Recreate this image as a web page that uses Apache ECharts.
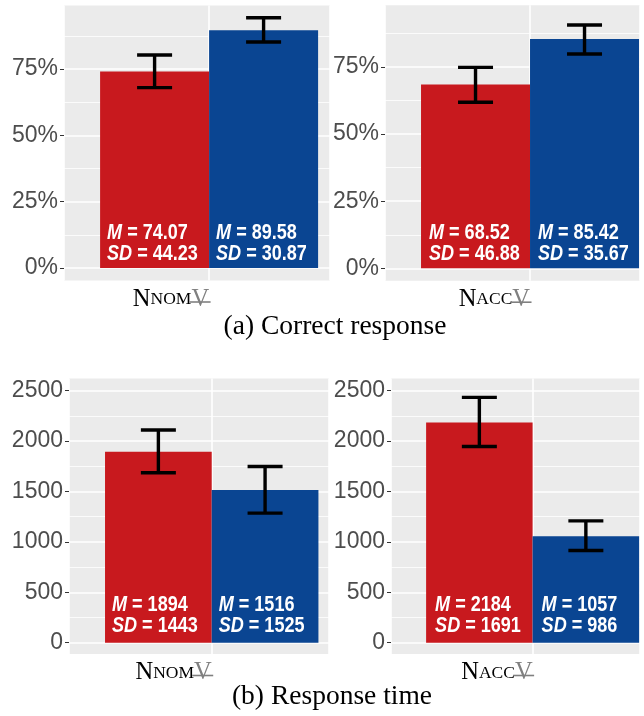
<!DOCTYPE html>
<html><head><meta charset="utf-8">
<script src="https://cdn.jsdelivr.net/npm/echarts@6/dist/echarts.min.js"></script>
<style>html,body{margin:0;padding:0;background:#fff}#c{width:644px;height:716px}</style>
</head><body><div id="c"></div>
<script>
// ---- data ----
const conditions = ['NOM', 'ACC'];
const groupColors = ['#C8191E', '#0A4592'];
// (a) correct response (%)
const accMean = [[74.07, 89.58], [68.52, 85.42]];
const accSD   = [[44.23, 30.87], [46.88, 35.67]];
const accLow  = [[68.0, 85.2], [61.9, 79.9]];
const accHigh = [[80.3, 94.3], [74.9, 90.7]];
// (b) response time
const rtMean = [[1894, 1516], [2184, 1057]];
const rtSD   = [[1443, 1525], [1691, 986]];
const rtLow  = [[1686, 1285], [1947, 914]];
const rtHigh = [[2110, 1748], [2434, 1209]];
const accTicks = [0, 25, 50, 75];
const rtTicks = [0, 500, 1000, 1500, 2000, 2500];
const captions = ['(a) Correct response', '(b) Response time'];

// ---- layout (pixels) ----
const panels = [
  {m: accMean, s: accSD, lo: accLow, hi: accHigh, c: 0, ticks: accTicks, ymax: 100, step: 25, pct: true, dec: 2,
   bg: {l: 64, r: 330, t: 5.4, b: 280.5}, dt: 2.7, db: 268, xMax: 0.5, bw: 109, lblDist: 3.5, lblX: 7},
  {m: accMean, s: accSD, lo: accLow, hi: accHigh, c: 1, ticks: accTicks, ymax: 100, step: 25, pct: true, dec: 2,
   bg: {l: 385, r: 640, t: 5.2, b: 280.7}, dt: -8.1, db: 268.3, xMax: 0.455, bw: 109, lblDist: 3.5, lblX: 8},
  {m: rtMean, s: rtSD, lo: rtLow, hi: rtHigh, c: 0, ticks: rtTicks, ymax: 2500, step: 500, pct: false, dec: 0,
   bg: {l: 69, r: 329, t: 378.4, b: 654}, dt: 390.7, db: 642.7, xMax: 0.493, bw: 106.7, lblDist: 6.5, lblX: 7},
  {m: rtMean, s: rtSD, lo: rtLow, hi: rtHigh, c: 1, ticks: rtTicks, ymax: 2500, step: 500, pct: false, dec: 0,
   bg: {l: 391, r: 640, t: 378.4, b: 654}, dt: 390.7, db: 642.7, xMax: 0.455, bw: 106.5, lblDist: 6.5, lblX: 9}
];

const grid = [], xAxis = [], yAxis = [], series = [];
const sans = 'Liberation Sans, Arial, sans-serif';
const serif = 'Liberation Serif, Times New Roman, serif';
const n = panels.length;
const LABEL_MARGIN = 6.5;

panels.forEach((p, i) => {
  // background panel grid (grey area, vertical grid line, category label)
  grid.push({show: true, backgroundColor: '#EBEBEB', borderWidth: 0,
    left: p.bg.l, width: p.bg.r - p.bg.l, top: p.bg.t, height: p.bg.b - p.bg.t});
  xAxis.push({type: 'value', gridIndex: i, min: -0.6, max: p.xMax, interval: 0.6,
    axisLine: {show: false, onZero: false}, axisTick: {show: false},
    splitLine: {show: true, lineStyle: {color: '#FFFFFF', width: 1.6}},
    axisLabel: {show: true, margin: LABEL_MARGIN, align: 'right',
      formatter: v => Math.abs(v) < 1e-9 ? '{n|N}{s|' + conditions[p.c] + '}{v|V}' : '',
      rich: {
        n: {fontFamily: serif, fontSize: 24.5, color: '#000'},
        s: {fontFamily: serif, fontSize: 17.5, color: '#000'},
        v: {fontFamily: serif, fontSize: 24.5, color: '#808080'}
      }}});
  yAxis.push({type: 'value', gridIndex: i, show: false, min: 0, max: 1});
});

const txt = (size, italic) => ({fontFamily: sans, fontSize: size, fontWeight: 'bold',
  fontStyle: italic ? 'italic' : 'normal', fill: '#FFFFFF', color: '#FFFFFF', lineHeight: 21});

panels.forEach((p, k) => {
  const i = n + k;
  grid.push({show: false, left: p.bg.l, width: p.bg.r - p.bg.l, top: p.dt, height: p.db - p.dt});
  xAxis.push({type: 'value', gridIndex: i, min: -0.6, max: p.xMax, show: false, splitLine: {show: false},
    axisLine: {onZero: false}});
  yAxis.push({type: 'value', gridIndex: i, min: 0, max: p.ymax, interval: p.step,
    axisLine: {show: false, onZero: false},
    axisTick: {show: true, length: 4, customValues: p.ticks, lineStyle: {color: '#333333', width: 1}},
    axisLabel: {show: true, customValues: p.ticks, margin: 6, color: '#4D4D4D', fontFamily: sans, fontSize: 23,
      formatter: v => p.pct ? v + '%' : String(v)},
    splitLine: {show: true, lineStyle: {color: '#FFFFFF', width: 1.6}},
    minorTick: {show: false, splitNumber: 2},
    minorSplitLine: {show: true, lineStyle: {color: '#FFFFFF', width: 0.8}}});
  [0, 1].forEach(g => {
    series.push({type: 'bar', xAxisIndex: i, yAxisIndex: i, barWidth: p.bw, barGap: '0%',
      itemStyle: {color: groupColors[g]},
      data: [[0, p.m[p.c][g]]]});
  });
  // error bars + in-bar M / SD text
  series.push({type: 'custom', xAxisIndex: i, yAxisIndex: i, z: 5,
    data: [0, 1].map(g => [0, p.lo[p.c][g], p.hi[p.c][g], g]),
    renderItem: (params, api) => {
      const g = api.value(3);
      const top = api.coord([0, api.value(2)]);
      const bot = api.coord([0, api.value(1)]);
      const base = api.coord([0, 0]);
      const cx = top[0] + (g === 0 ? -0.5 : 0.5) * p.bw;
      const barLeft = g === 0 ? top[0] - p.bw : top[0];
      const hw = 17.5;
      const style = {stroke: '#000', lineWidth: 3.4, fill: null};
      const m = p.m[p.c][g].toFixed(p.dec), s = p.s[p.c][g].toFixed(p.dec);
      return {type: 'group', children: [
        {type: 'line', shape: {x1: cx, y1: top[1], x2: cx, y2: bot[1]}, style},
        {type: 'line', shape: {x1: cx - hw, y1: top[1], x2: cx + hw, y2: top[1]}, style},
        {type: 'line', shape: {x1: cx - hw, y1: bot[1], x2: cx + hw, y2: bot[1]}, style},
        {type: 'text', x: barLeft + p.lblX, y: base[1] - p.lblDist, scaleX: 0.82,
         style: {text: '{i|M}{t| = ' + m + '}\n{i|SD}{t| = ' + s + '}',
           align: 'left', verticalAlign: 'bottom', fill: '#FFFFFF',
           fontFamily: sans, fontSize: 22, fontWeight: 'bold',
           rich: {i: txt(22, true), t: txt(22, false)}}}
      ]};
    }});
  // strike-through over the grey "V" of the category label
  series.push({type: 'custom', xAxisIndex: i, yAxisIndex: i, z: 5,
    data: [[0, 0]],
    renderItem: (params, api) => {
      const c = api.coord([0, 0]);
      const y = c[1] + (p.bg.b - p.db) + LABEL_MARGIN + 15;
      return {type: 'line', shape: {x1: c[0] - 19.5, y1: y, x2: c[0] + 1.5, y2: y},
        style: {stroke: '#808080', lineWidth: 1.6}};
    }});
});

const chart = echarts.init(document.getElementById('c'), null, {renderer: 'canvas'});
chart.setOption({
  animation: false,
  backgroundColor: '#FFFFFF',
  grid, xAxis, yAxis, series,
  graphic: [
    {type: 'text', x: 335, y: 313, style: {text: captions[0], font: '27.5px ' + serif, fill: '#000', align: 'center'}},
    {type: 'text', x: 332, y: 683, style: {text: captions[1], font: '27.5px ' + serif, fill: '#000', align: 'center'}}
  ]
});
</script></body></html>
